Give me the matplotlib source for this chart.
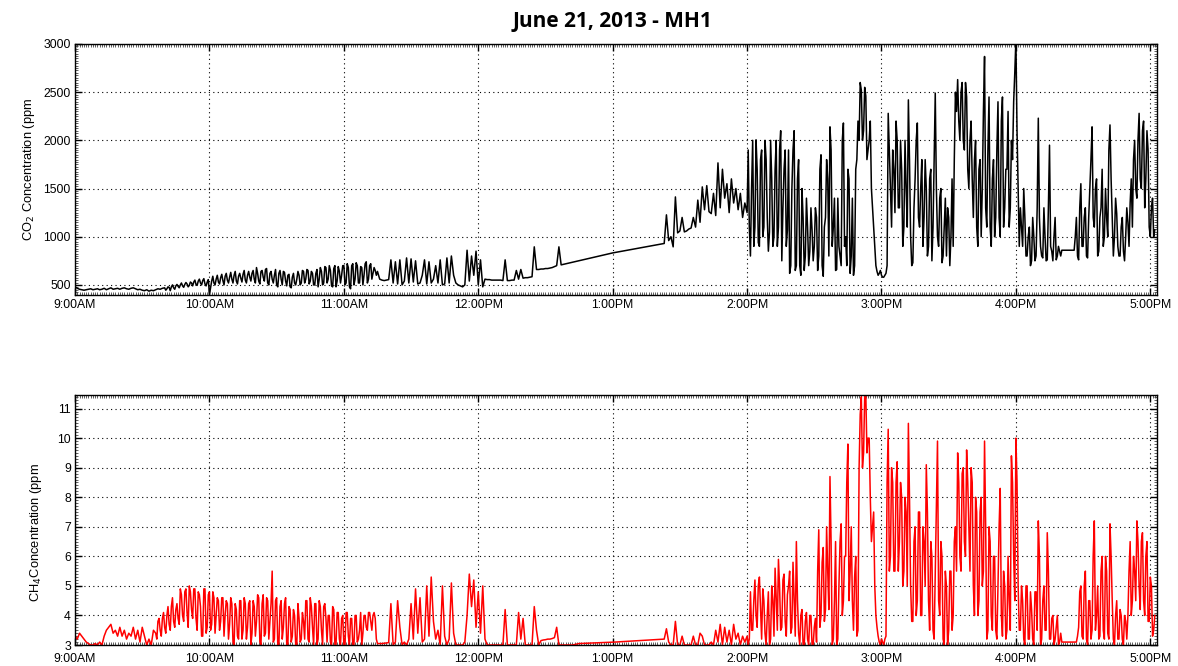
import matplotlib
matplotlib.use("Agg")
import matplotlib.pyplot as plt
from matplotlib.ticker import MultipleLocator
import numpy as np

# minutes after 9:00AM, one reading per minute in the two logged blocks,
# plus the in-between half-minute readings where the trace is dense
am_start = 0
pm_start = 264

co2_am = [480, 465, 455, 450, 445, 450, 455, 460, 450, 455,
          460, 450, 455, 465, 450, 460, 470, 455, 460, 465,
          455, 465, 470, 460, 455, 465, 470, 460, 450, 455,
          445, 440, 450, 435, 445, 440, 450, 460, 455, 465,
          470, 460, 475, 480, 470, 490, 485, 500, 490, 505,
          510, 495, 520, 530, 505, 540, 520, 545, 510, 530,
          400, 540, 520, 560, 530, 575, 545, 590, 550, 580,
          560, 600, 540, 590, 570, 610, 550, 600, 580, 620,
          560, 680, 540, 640, 580, 660, 520, 620, 560, 600,
          500, 620, 560, 640, 540, 600, 480, 580, 520, 560,
          600, 520, 640, 560, 650, 540, 620, 500, 660, 560,
          640, 520, 680, 560, 650, 480, 700, 540, 640, 600,
          700, 520, 680, 460, 720, 560, 700, 520, 680, 600,
          740, 560, 720, 620, 650, 640, 560, 550, 545, 550,
          555, 760, 520, 740, 510, 760, 500, 540, 780, 520,
          770, 530, 750, 510, 520, 600, 760, 510, 740, 520,
          560, 700, 520, 760, 500, 510, 780, 520, 800, 600,
          520, 500, 490, 480, 500, 860, 540, 800, 600, 850,
          500, 760, 480, 560, 555, 555, 550, 550, 550, 550,
          550, 545, 760, 545, 545, 550, 550, 650, 560, 660,
          570, 575, 575, 580, 585, 895, 660, 660, 665, 665,
          670, 670, 675, 680, 690, 700, 895, 708]
co2_am_half_start = 40.5
co2_am_half = [445, 480, 440, 500, 455, 505, 470, 520, 475, 525,
               480, 530, 490, 550, 495, 560, 500, 565, 490, 555,
               470, 590, 500, 600, 510, 610, 500, 620, 520, 630,
               520, 640, 510, 620, 530, 650, 520, 640, 540, 650,
               520, 620, 510, 650, 540, 670, 500, 640, 520, 660,
               480, 650, 500, 630, 490, 610, 470, 620, 500, 640,
               500, 650, 520, 660, 510, 640, 500, 620, 480, 680,
               500, 690, 520, 700, 490, 670, 480, 690, 520, 700,
               500, 720, 480, 700, 500, 730, 520, 690, 500, 720,
               520, 700, 560, 680, 600]
co2_gap_min = [240, 263]
co2_gap = [832, 930]
co2_pm = [1227, 960, 1000, 895, 1413, 1040, 1060, 1200, 1050, 1060,
          1080, 1090, 1200, 1100, 1380, 1150, 1517, 1280, 1530, 1260,
          1240, 1450, 1220, 1766, 1300, 1700, 1400, 1550, 1250, 1600,
          1350, 1500, 1280, 1450, 1200, 1350, 1250,
          1100, 1500, 900, 2005, 940, 1800, 1000, 2000, 1200,
          1050, 1600, 1000, 2000, 1100, 2100, 1300, 1900, 1070, 620,
          1500, 2100, 700, 1800, 600, 1200, 800, 1100, 850, 1070,
          900, 1200, 800, 1850, 590, 1200, 1600, 2140, 900, 1400,
          660, 900, 700, 2180, 1000, 1700, 620, 1400, 700, 1800,
          2000, 2520, 2100, 2460, 1900, 2200, 1300, 900, 640, 620,
          600, 580, 620, 2280, 1500, 1900, 1250, 2000, 1300, 1700,
          1100, 1500, 2420, 1000, 730, 1600, 2180, 1100, 1800, 1200,
          1500, 900, 1700, 1100, 2490, 1000, 1400, 730, 1100, 800,
          1200, 1000, 900, 2500, 2630, 2000, 2600, 1900, 2450, 1500,
          2200, 1200, 2000, 900, 1800, 1500, 2870, 1100, 2450, 900,
          1800, 1200, 2400, 1000, 2450, 1300, 1700, 1100, 2000, 2400,
          3050, 1500, 1300, 900, 1200, 800, 1100, 750, 1000, 800,
          2230, 900, 780, 1000, 760, 1950, 850, 1000, 760, 900,
          800, 860, 860, 860, 860, 860, 860, 1200, 760, 1550,
          900, 1300, 780, 1500, 2140, 1100, 1600, 850, 1300, 900,
          1500, 1000, 2160, 1200, 1000, 1240, 800, 1100, 850, 1000,
          1150, 1350, 1100, 2000, 1400, 2280, 1500, 2200, 1600, 1900,
          1000, 1400, 1070]
co2_pm_half_start = 300.5
co2_pm_half = [1900, 800, 2000, 1100, 1700, 900, 1900, 1100, 1800, 850,
               2000, 900, 1700, 900, 1900, 750, 1700, 900, 1900, 700,
               1900, 650, 1600, 700, 1500, 650, 1400, 700, 1300, 750,
               1300, 650, 1700, 700, 1100, 1800, 800, 1900, 1100, 650,
               1400, 800, 2000, 900, 700, 1600, 800, 600, 1700, 2200,
               2600, 2000, 2550, 1800, 2000, 1500, 1100, 700, 600, 650,
               580, 600, 700, 1900, 1100, 1700, 2200, 1300, 2000, 900,
               2000, 1100, 1800, 700, 1300, 2000, 1200, 1500, 900, 1800,
               800, 1600, 750, 1800, 1500, 900, 1500, 800, 1400, 1300,
               700, 1600, 1800, 2300, 2200, 2500, 2000, 2600, 1700, 2000,
               1600, 1800, 1100, 1700, 1000, 2300, 1300, 1900, 1100, 1600,
               1000, 1900, 1200, 2200, 1100, 1700, 2300, 1300, 1800, 2700,
               2100, 900, 1100, 1500, 800, 1000, 700, 1200, 750, 1300,
               1200, 800, 1300, 750, 1300, 900, 750, 1200, 800, 850,
               860, 860, 860, 860, 860, 860, 1000, 800, 1300, 900,
               1200, 800, 1200, 1800, 1200, 1500, 800, 1200, 1700, 1000,
               1200, 1900, 1600, 800, 1400, 900, 800, 1200, 750, 1300,
               900, 1600, 1800, 1500, 2000, 1600, 2100, 1300, 2100, 1100,
               1300, 1000]

ch4_am = [3.3, 3.2, 3.4, 3.3, 3.2, 3.1, 3.05, 3.0, 3.0, 3.05,
          3.0, 3.1, 3.0, 3.3, 3.5, 3.6, 3.7, 3.4, 3.5, 3.3,
          3.6, 3.3, 3.5, 3.2, 3.4, 3.3, 3.6, 3.2, 3.5, 3.1,
          3.6, 3.3, 3.0, 3.2, 3.0, 3.5, 3.4, 3.8, 3.5, 3.9,
          3.6, 4.0, 3.7, 4.3, 3.8, 4.2, 3.9, 4.9, 4.0, 4.8,
          4.1, 5.0, 4.2, 4.9, 3.9, 4.8, 4.3, 3.3, 4.9, 3.6,
          4.8, 3.7, 4.6, 4.0, 4.5, 3.8, 4.6, 4.0, 4.4, 3.7,
          4.4, 3.0, 4.2, 3.2, 4.5, 3.5, 4.4, 3.6, 4.5, 3.4,
          4.3, 3.8, 4.6, 3.0, 4.7, 3.4, 4.5, 3.8, 5.5, 3.2,
          4.6, 3.0, 4.5, 3.6, 4.6, 3.0, 4.2, 3.3, 4.0, 3.0,
          3.9, 3.2, 3.8, 4.5, 3.2, 4.6, 3.6, 4.4, 3.0, 4.5,
          3.5, 4.3, 3.9, 4.0, 3.1, 4.3, 3.0, 4.1, 3.2, 3.9,
          3.0, 4.1, 3.3, 3.9, 3.0, 4.0, 3.1, 3.5, 3.0, 4.0,
          3.6, 4.1, 3.8, 4.0, 3.9, 3.05, 3.05, 3.05, 3.06, 3.07,
          3.08, 4.4, 3.0, 3.1, 4.5, 3.6, 3.0, 3.1, 3.0, 3.2,
          4.4, 3.2, 4.9, 3.4, 4.6, 3.1, 3.2, 5.0, 3.3, 5.3,
          3.8, 3.2, 3.5, 3.0, 5.0, 3.3, 3.0, 3.2, 5.1, 3.4,
          3.0, 3.0, 3.0, 3.0, 3.1, 4.0, 5.4, 4.3, 5.2, 3.6,
          4.8, 3.4, 5.0, 3.2, 3.0, 3.0, 3.0, 3.0, 3.0, 3.0,
          3.0, 3.0, 4.2, 3.0, 3.0, 3.0, 3.0, 3.0, 4.1, 3.2,
          3.9, 3.0, 3.0, 3.0, 3.0, 4.3, 3.5, 3.0, 3.15, 3.17,
          3.18, 3.2, 3.2, 3.22, 3.25, 3.6, 3.0, 3.0]
ch4_am_half_start = 36.5
ch4_am_half = [3.2, 3.9, 3.3, 4.1, 3.4, 4.3, 3.5, 4.6, 3.6, 4.4,
               3.7, 4.7, 3.8, 4.9, 3.6, 4.8, 3.9, 4.9, 3.5, 4.7,
               3.3, 4.9, 3.4, 4.7, 3.5, 4.8, 3.4, 4.6, 3.5, 4.6,
               3.3, 4.5, 3.2, 4.6, 3.1, 4.4, 3.3, 4.5, 3.2, 4.6,
               3.2, 4.4, 3.0, 4.5, 3.3, 4.7, 3.1, 4.4, 3.3, 4.6,
               3.2, 4.4, 3.1, 4.5, 3.0, 4.3, 3.2, 4.4, 3.0, 4.3,
               3.1, 4.2, 3.0, 4.4, 3.1, 4.1, 3.2, 4.5, 3.1, 4.3,
               3.0, 4.4, 3.2, 4.3, 3.0, 4.4, 3.1, 4.0, 3.0, 4.2,
               3.0, 4.1, 3.0, 4.0, 3.0, 4.1, 3.0, 3.9, 3.0, 4.0,
               3.2, 4.1, 3.4, 4.0, 3.5, 4.1, 3.5, 4.1, 3.2]
ch4_gap_min = [222, 225, 241, 263]
ch4_gap = [3.0, 3.05, 3.1, 3.2]
ch4_pm = [3.55, 3.1, 3.0, 3.0, 3.8, 3.0, 3.0, 3.3, 3.0, 3.0,
          3.0, 3.0, 3.3, 3.0, 3.0, 3.4, 3.3, 3.0, 3.0, 3.0,
          3.1, 3.0, 3.5, 3.1, 3.7, 3.0, 3.6, 3.1, 3.5, 3.0,
          3.7, 3.2, 3.4, 3.0, 3.3, 3.1, 3.3,
          3.2, 3.5, 4.5, 4.0, 5.0, 4.2, 4.9, 3.4, 4.0,
          3.0, 5.0, 3.3, 4.6, 5.9, 3.5, 5.2, 3.8, 4.7, 5.5,
          3.6, 4.6, 6.5, 3.4, 4.0, 3.0, 3.8, 3.2, 4.0, 3.0,
          3.6, 3.1, 6.9, 4.0, 6.3, 4.2, 5.5, 8.7, 3.0, 4.5,
          3.0, 5.0, 7.1, 4.5, 6.0, 9.8, 5.5, 4.5, 5.3, 3.3,
          9.0, 11.4, 9.5, 11.5, 10.0, 8.0, 7.0, 5.0, 3.6, 3.1,
          3.2, 3.0, 3.3, 10.3, 6.0, 8.5, 5.5, 9.2, 6.5, 8.0,
          5.5, 7.5, 10.5, 5.0, 3.8, 7.0, 4.5, 7.5, 4.0, 6.5,
          9.1, 4.5, 6.5, 3.5, 5.5, 9.9, 4.0, 6.0, 3.0, 5.0,
          3.5, 5.5, 4.0, 7.0, 9.5, 6.0, 8.8, 6.5, 9.6, 7.0,
          9.0, 5.0, 8.0, 4.0, 7.5, 5.0, 9.9, 3.2, 7.0, 4.0,
          6.0, 3.5, 5.0, 8.3, 3.3, 5.0, 3.5, 4.5, 9.4, 6.0,
          10.0, 5.0, 3.5, 4.5, 3.0, 5.0, 3.2, 4.2, 3.0, 4.8,
          7.2, 3.0, 4.5, 3.5, 6.8, 3.2, 3.9, 3.0, 3.6, 3.0,
          3.4, 3.1, 3.1, 3.1, 3.1, 3.1, 3.1, 3.1, 3.6, 5.0,
          3.2, 5.5, 3.0, 4.5, 3.5, 7.2, 4.0, 3.2, 5.5, 3.5,
          6.0, 3.4, 7.1, 4.5, 3.0, 4.5, 3.2, 4.0, 3.0, 3.8,
          4.0, 6.5, 4.5, 5.5, 7.2, 5.0, 6.5, 4.5, 6.0, 3.8,
          5.3, 3.3, 4.0]
ch4_pm_half_start = 300.5
ch4_pm_half = [3.0, 4.8, 3.5, 5.2, 3.6, 5.3, 3.2, 4.5, 3.0, 4.8,
               3.2, 4.5, 5.6, 3.5, 5.0, 3.6, 5.4, 3.3, 5.0, 3.4,
               5.8, 3.3, 4.5, 3.0, 4.2, 3.0, 4.1, 3.0, 4.0, 3.0,
               3.9, 5.5, 3.6, 5.8, 3.8, 7.0, 4.2, 6.5, 3.2, 6.5,
               3.2, 6.5, 4.0, 6.0, 8.5, 4.5, 7.0, 3.5, 6.0, 3.5,
               10.8, 9.0, 11.4, 9.5, 10.0, 6.5, 7.5, 4.0, 3.3, 3.0,
               3.1, 3.2, 8.5, 5.5, 9.0, 5.5, 8.5, 5.5, 8.5, 5.0,
               8.0, 5.0, 8.0, 3.8, 6.5, 4.0, 7.5, 4.0, 7.0, 5.0,
               7.5, 3.5, 6.0, 3.2, 8.0, 4.5, 6.5, 3.2, 5.5, 3.0,
               5.5, 3.5, 6.5, 5.5, 8.5, 5.5, 9.0, 6.0, 8.5, 5.5,
               8.5, 4.0, 7.5, 4.5, 8.0, 5.5, 7.0, 3.5, 6.5, 3.5,
               6.0, 3.2, 7.0, 4.0, 5.5, 3.2, 6.0, 3.5, 8.5, 4.5,
               8.5, 3.5, 5.0, 3.2, 5.0, 3.2, 4.8, 3.2, 4.8, 3.5,
               6.0, 3.2, 5.0, 3.5, 5.5, 3.2, 4.0, 3.2, 4.0, 3.1,
               3.1, 3.1, 3.1, 3.1, 3.1, 3.1, 3.1, 3.3, 4.8, 3.3,
               5.0, 3.2, 4.5, 3.2, 6.0, 3.5, 5.0, 3.3, 6.0, 3.2,
               5.5, 3.2, 6.0, 3.2, 4.0, 3.2, 4.2, 3.2, 4.0, 3.2,
               5.5, 4.0, 6.0, 4.5, 6.5, 4.2, 6.8, 4.0, 6.5, 3.8,
               5.0, 3.5]

hour_ticks = [0, 60, 120, 180, 240, 300, 360, 420, 480]
hour_labels = ["9:00AM", "10:00AM", "11:00AM", "12:00PM", "1:00PM",
               "2:00PM", "3:00PM", "4:00PM", "5:00PM"]


def series(am, am_half, am_half_start, gap_t, gap_v, pm, pm_half, pm_half_start):
    t = np.concatenate([np.arange(am_start, am_start + len(am)),
                        np.arange(len(am_half)) + am_half_start,
                        gap_t,
                        np.arange(pm_start, pm_start + len(pm)),
                        np.arange(len(pm_half)) + pm_half_start])
    v = np.concatenate([am, am_half, gap_v, pm, pm_half])
    order = np.argsort(t, kind='stable')
    return t[order], v[order]


co2_t, co2_v = series(co2_am, co2_am_half, co2_am_half_start, co2_gap_min, co2_gap,
                      co2_pm, co2_pm_half, co2_pm_half_start)
ch4_t, ch4_v = series(ch4_am, ch4_am_half, ch4_am_half_start, ch4_gap_min, ch4_gap,
                      ch4_pm, ch4_pm_half, ch4_pm_half_start)

plt.rcParams['font.family'] = ['Liberation Sans', 'DejaVu Sans']

fig = plt.figure(figsize=(11.78, 6.66), dpi=100)
ax1 = fig.add_axes([0.0637, 0.557, 0.9185, 0.377])
ax2 = fig.add_axes([0.0637, 0.0315, 0.9185, 0.375])

ax1.plot(co2_t, co2_v, color='black', lw=1.1)
ax2.plot(ch4_t, ch4_v, color='red', lw=1.1)

ax1.set_ylim(395, 3000)
ax1.set_yticks([500, 1000, 1500, 2000, 2500, 3000])
ax1.yaxis.set_minor_locator(MultipleLocator(25))
ax2.set_ylim(3, 11.45)
ax2.set_yticks(range(3, 12))
ax2.yaxis.set_minor_locator(MultipleLocator(0.1))

for ax in (ax1, ax2):
    ax.set_xlim(0, 483)
    ax.set_xticks(hour_ticks)
    ax.set_xticklabels(hour_labels)
    ax.xaxis.set_minor_locator(MultipleLocator(1))
    ax.grid(True, which='major', color='black', linestyle=(0, (1, 3)), linewidth=0.8)
    ax.tick_params(which='major', direction='in', top=True, right=True,
                   labelsize=8.8, length=5, pad=3, width=1)
    ax.tick_params(which='minor', direction='in', top=True, right=True,
                   length=2, width=0.6, color='#444444')
    for s in ax.spines.values():
        s.set_linewidth(1.0)

# bottom panel: keep the 9:00AM label clear of the "3" tick label
ax2.tick_params(axis='x', which='major', pad=6)

ax1.set_ylabel("CO$_2$ Concentration (ppm", fontsize=9.3, labelpad=5)
ax2.set_ylabel("CH$_4$Concentration (ppm", fontsize=9.3, labelpad=5)
ax2.yaxis.set_label_coords(-0.029, 0.45)

fig.text(0.52, 0.968, "June 21, 2013 - MH1", ha='center', va='center',
         fontsize=15, fontweight='bold', family=['Open Sans', 'DejaVu Sans'])

fig.savefig("out.png", dpi=100)
